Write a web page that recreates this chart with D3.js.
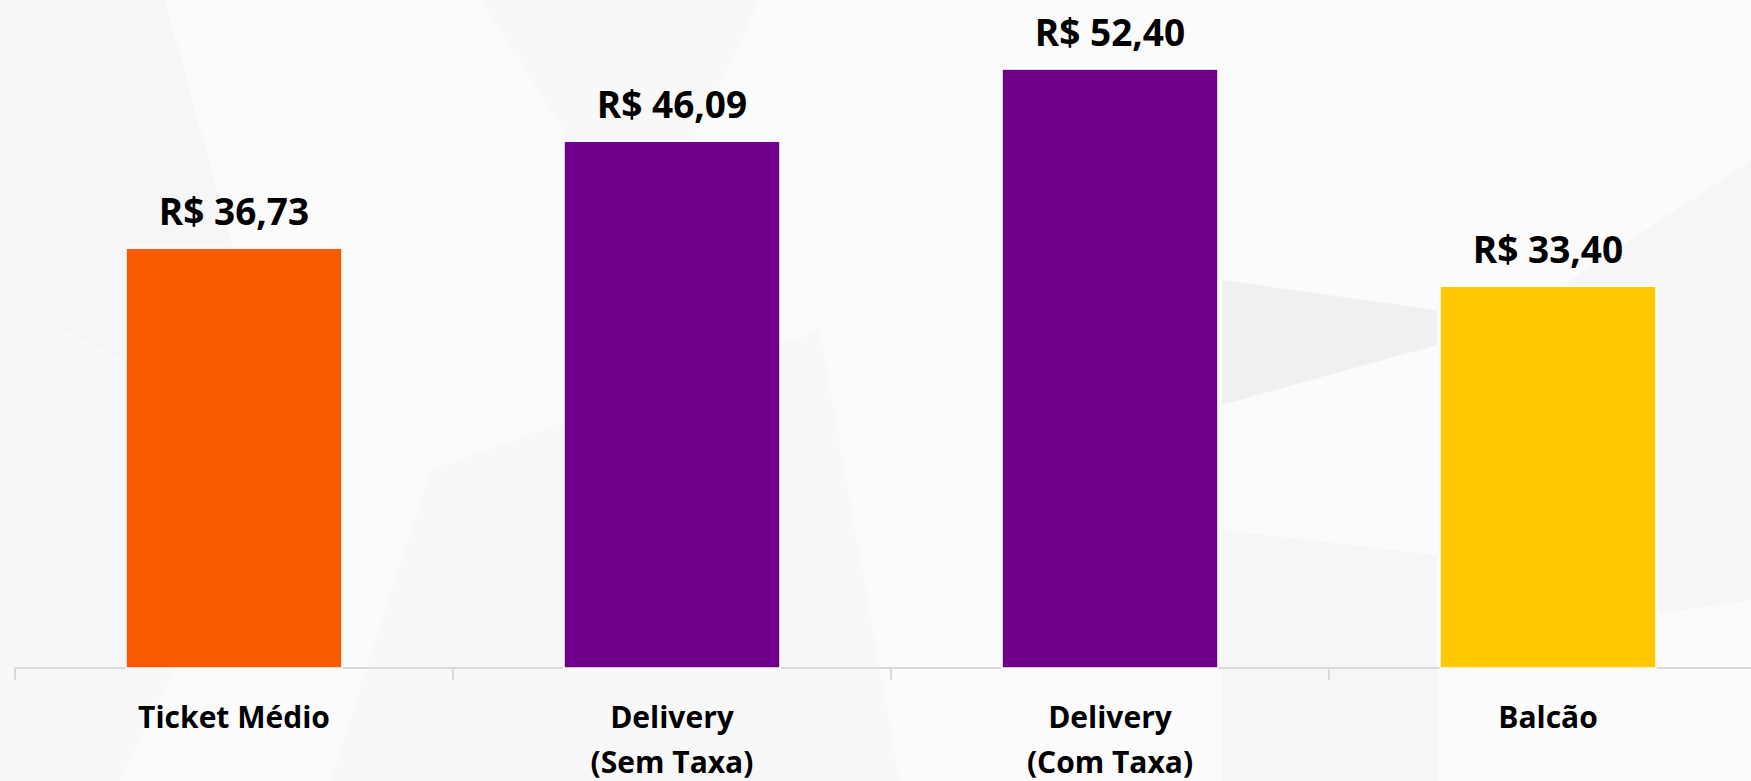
<!DOCTYPE html>
<html lang="pt">
<head>
    <meta charset="UTF-8">
    <title>Ticket Médio</title>
    <script src="https://cdn.jsdelivr.net/npm/d3@7/dist/d3.min.js"></script>
    <style>
        html, body { margin: 0; padding: 0; background: #fbfbfb; }
        svg { display: block; }
    </style>
</head>
<body>
    <svg></svg>
    <script>
        // dados
        let categories = ["Ticket Médio", "Delivery (Sem Taxa)", "Delivery (Com Taxa)", "Balcão"];
        let labelLines = [["Ticket Médio"], ["Delivery", "(Sem Taxa)"], ["Delivery", "(Com Taxa)"], ["Balcão"]];
        let values = [36.73, 46.09, 52.40, 33.40];
        let colors = ["#f85a00", "#6e008a", "#6e008a", "#ffc800"];

        let width = 1751, height = 781;
        let baseY = 668;

        let svg = d3.select("svg")
            .attr("width", width)
            .attr("height", height);

        // fundo com triângulos cinza bem claros
        let shards = [
            [[0, 0], [165, 0], [285, 440], [0, 300]],
            [[0, 300], [285, 440], [120, 781], [0, 781]],
            [[1222, 280], [1437, 310], [1437, 345], [1222, 405]],
            [[1222, 530], [1437, 555], [1437, 781], [1222, 781]],
            [[1495, 330], [1751, 160], [1751, 600], [1480, 640]],
            [[430, 470], [820, 330], [900, 781], [330, 781]],
            [[480, 0], [760, 0], [640, 250]]
        ];
        let shardOpacity = [0.018, 0.012, 0.045, 0.02, 0.02, 0.01, 0.01];
        svg.selectAll("polygon.bg")
            .data(shards)
            .enter()
            .append("polygon")
            .attr("class", "bg")
            .attr("points", d => d.map(p => p.join(",")).join(" "))
            .attr("fill", "#000")
            .attr("fill-opacity", (d, i) => shardOpacity[i]);

        // escalas
        let x = d3.scaleBand()
            .domain(categories)
            .range([15, 15 + 4 * 438])
            .paddingInner(0.507)
            .paddingOuter(0.2535);

        let y = d3.scaleLinear()
            .domain([0, 55])
            .range([baseY, baseY - 55 * 11.43]);

        // eixo
        svg.append("line")
            .attr("x1", 15).attr("x2", width)
            .attr("y1", baseY).attr("y2", baseY)
            .attr("stroke", "#d9d9d9")
            .attr("stroke-width", 2);

        let step = x.step();
        svg.selectAll("line.tick")
            .data(categories)
            .enter()
            .append("line")
            .attr("class", "tick")
            .attr("x1", d => x(d) - x.paddingOuter() * step)
            .attr("x2", d => x(d) - x.paddingOuter() * step)
            .attr("y1", baseY)
            .attr("y2", baseY + 12)
            .attr("stroke", "#d9d9d9")
            .attr("stroke-width", 2);

        // barras
        svg.selectAll("rect.bar")
            .data(values)
            .enter()
            .append("rect")
            .attr("class", "bar")
            .attr("x", (d, i) => x(categories[i]))
            .attr("y", d => y(d))
            .attr("width", x.bandwidth())
            .attr("height", d => y(0) - y(d))
            .attr("fill", (d, i) => colors[i])
            .attr("stroke", "#fff")
            .attr("stroke-width", 1.5);

        // rótulos de valor
        let fmt = d => "R$ " + d.toFixed(2).replace(".", ",");
        svg.selectAll("text.value")
            .data(values)
            .enter()
            .append("text")
            .attr("class", "value")
            .attr("x", (d, i) => x(categories[i]) + x.bandwidth() / 2)
            .attr("y", d => y(d) - 23)
            .attr("text-anchor", "middle")
            .style("font-family", "'Open Sans', sans-serif")
            .style("font-weight", 700)
            .style("font-size", "37px")
            .attr("fill", "#000")
            .text(fmt);

        // rótulos de categoria
        let catText = svg.selectAll("text.cat")
            .data(labelLines)
            .enter()
            .append("text")
            .attr("class", "cat")
            .attr("x", (d, i) => x(categories[i]) + x.bandwidth() / 2)
            .attr("y", 728)
            .attr("text-anchor", "middle")
            .style("font-family", "'Open Sans', sans-serif")
            .style("font-weight", 700)
            .style("font-size", "30px")
            .attr("fill", "#000");

        catText.selectAll("tspan")
            .data(d => d)
            .enter()
            .append("tspan")
            .attr("x", function () { return d3.select(this.parentNode).attr("x"); })
            .attr("dy", (d, i) => i === 0 ? 0 : 45)
            .text(d => d);
    </script>
</body>
</html>
